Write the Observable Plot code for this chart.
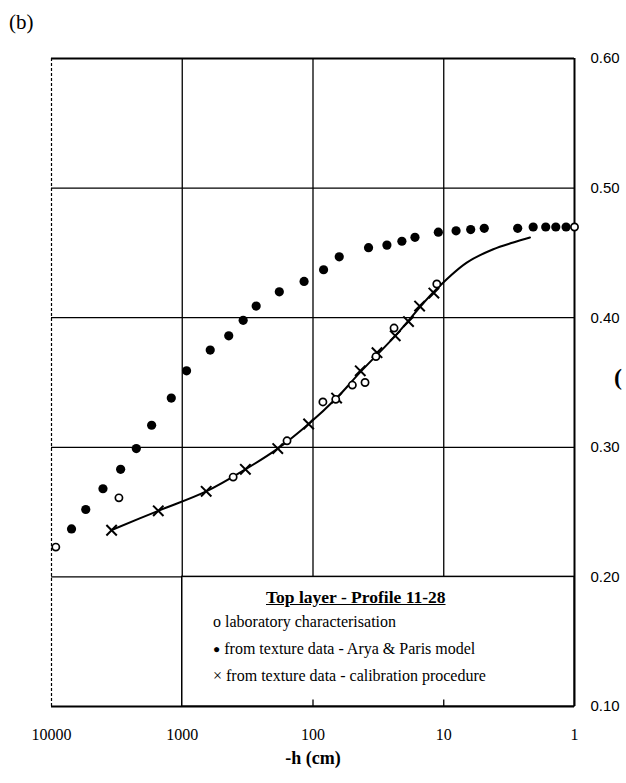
<!DOCTYPE html>
<html>
<head>
<meta charset="utf-8">
<script src="https://cdn.jsdelivr.net/npm/d3@7"></script>
<script src="https://cdn.jsdelivr.net/npm/@observablehq/plot@0.6"></script>
<style>
  html, body { margin: 0; padding: 0; background: #fff; }
  #wrap { position: relative; width: 626px; height: 783px; overflow: hidden; font-family: "Liberation Serif", serif; color: #000; }
  #wrap svg { position: absolute; left: 0; top: 0; }
  .ov { position: absolute; white-space: nowrap; }
</style>
</head>
<body>
<div id="wrap"></div>
<script>
// Tick values
const hTicks = [10000, 1000, 100, 10, 1];
const thetaTicks = [0.10, 0.20, 0.30, 0.40, 0.50, 0.60];

// Series: laboratory characterisation (open circles)
const labH     = [9270, 3050, 408, 158, 84, 67, 50, 40, 33, 24, 11.3, 1.0];
const labTheta = [0.223, 0.261, 0.277, 0.305, 0.335, 0.337, 0.348, 0.350, 0.370, 0.392, 0.426, 0.470];

// Series: from texture data - Arya & Paris model (filled dots)
const aryaH     = [7030, 5470, 4040, 2960, 2245, 1715, 1213, 927, 611, 441, 342, 272, 181, 117, 83, 63, 37.6, 27.2, 20.9, 16.6, 11.0, 8.05, 6.22, 4.90, 2.72, 2.07, 1.66, 1.39, 1.16];
const aryaTheta = [0.237, 0.252, 0.268, 0.283, 0.299, 0.317, 0.338, 0.359, 0.375, 0.386, 0.398, 0.409, 0.420, 0.428, 0.437, 0.447, 0.454, 0.456, 0.459, 0.462, 0.466, 0.467, 0.468, 0.469, 0.469, 0.470, 0.470, 0.470, 0.470];

// Series: from texture data - calibration procedure (crosses)
const calH     = [3470, 1525, 656, 329, 186, 108, 66, 43.5, 32.4, 23.5, 18.6, 15.3, 11.9];
const calTheta = [0.236, 0.251, 0.266, 0.283, 0.299, 0.318, 0.338, 0.359, 0.373, 0.386, 0.397, 0.409, 0.419];

// Fitted curve
const curveH     = [3500, 1525, 656, 329, 186, 108, 66, 43.5, 23.5, 11.9, 6.67, 4.18, 2.94, 2.19];
const curveTheta = [0.236, 0.251, 0.266, 0.283, 0.299, 0.318, 0.338, 0.358, 0.386, 0.420, 0.4425, 0.4528, 0.458, 0.4619];

const zip = (a, b) => a.map((h, i) => ({h, t: b[i]}));
const lab = zip(labH, labTheta);
const arya = zip(aryaH, aryaTheta);
const cal = zip(calH, calTheta);
const curve = zip(curveH, curveTheta);

const serif = "Liberation Serif, Times New Roman, serif";
const sans = "Liberation Sans, Arial, sans-serif";

const chart = Plot.plot({
  width: 626,
  height: 783,
  marginTop: 58,
  marginBottom: 77,
  marginLeft: 51,
  marginRight: 52,
  style: {fontFamily: serif, background: "white", color: "black"},
  x: {type: "log", domain: [10000, 1]},
  y: {domain: [0.1, 0.6]},
  marks: [
    Plot.gridX(hTicks.slice(1, 4), {stroke: "black", strokeOpacity: 1, strokeWidth: 1.3}),
    Plot.gridY(thetaTicks.slice(1, 5), {stroke: "black", strokeOpacity: 1, strokeWidth: 1.3}),
    Plot.ruleX(hTicks.slice(0, 1), {stroke: "black", strokeWidth: 1.2, strokeDasharray: "3,2"}),
    Plot.ruleX(hTicks.slice(4), {stroke: "black", strokeWidth: 2}),
    Plot.ruleY([thetaTicks[0], thetaTicks[5]], {stroke: "black", strokeWidth: 1.8}),
    // legend box
    Plot.rect([0], {x1: () => 1000, x2: () => 1, y1: () => 0.1, y2: () => 0.2, fill: "white", stroke: "black", strokeWidth: 1.5}),
    Plot.ruleX(hTicks.slice(2, 4), {y1: () => 0.1, y2: () => 0.105, stroke: "black", strokeWidth: 1.3}),
    // data
    Plot.line(curve, {x: "h", y: "t", stroke: "black", strokeWidth: 2, curve: "catmull-rom"}),
    Plot.dot(arya, {x: "h", y: "t", r: 4.6, fill: "black", stroke: "none"}),
    Plot.dot(cal, {x: "h", y: "t", symbol: "times", r: 4.8, stroke: "black", strokeWidth: 2}),
    Plot.dot(lab, {x: "h", y: "t", r: 3.6, fill: "white", stroke: "black", strokeWidth: 1.7}),
    // axes
    Plot.axisX(hTicks, {anchor: "bottom", tickSize: 0, tickPadding: 22, tickFormat: d => String(d), fontSize: 16, fontFamily: serif, label: null}),
    Plot.axisY(thetaTicks, {anchor: "right", tickSize: 0, tickPadding: 16, tickFormat: d3.format(".2f"), fontSize: 15, fontFamily: sans, label: null})
  ]
});

const wrap = document.getElementById("wrap");
wrap.appendChild(chart);

function ov(html, css) {
  const d = document.createElement("div");
  d.className = "ov";
  d.innerHTML = html;
  Object.assign(d.style, css);
  wrap.appendChild(d);
}
ov("(b)", {left: "9px", top: "10px", fontSize: "21px", fontFamily: serif});
ov("-h (cm)", {left: "313px", top: "748px", transform: "translateX(-50%)", fontSize: "18px", fontWeight: "bold", fontFamily: serif});
ov("(", {left: "614px", top: "364px", fontSize: "24px", fontWeight: "bold", fontFamily: serif});
ov("Top layer - Profile 11-28", {left: "266px", top: "587px", fontSize: "17.5px", fontWeight: "bold", textDecoration: "underline", fontFamily: serif});
ov("o laboratory characterisation", {left: "213px", top: "613px", fontSize: "16px", fontFamily: serif});
ov("<span style='font-size:12px;vertical-align:1px'>●</span> from texture data - Arya &amp; Paris model", {left: "213px", top: "640px", fontSize: "16px", fontFamily: serif});
ov("× from texture data - calibration procedure", {left: "213px", top: "667px", fontSize: "16px", fontFamily: serif});
</script>
</body>
</html>
